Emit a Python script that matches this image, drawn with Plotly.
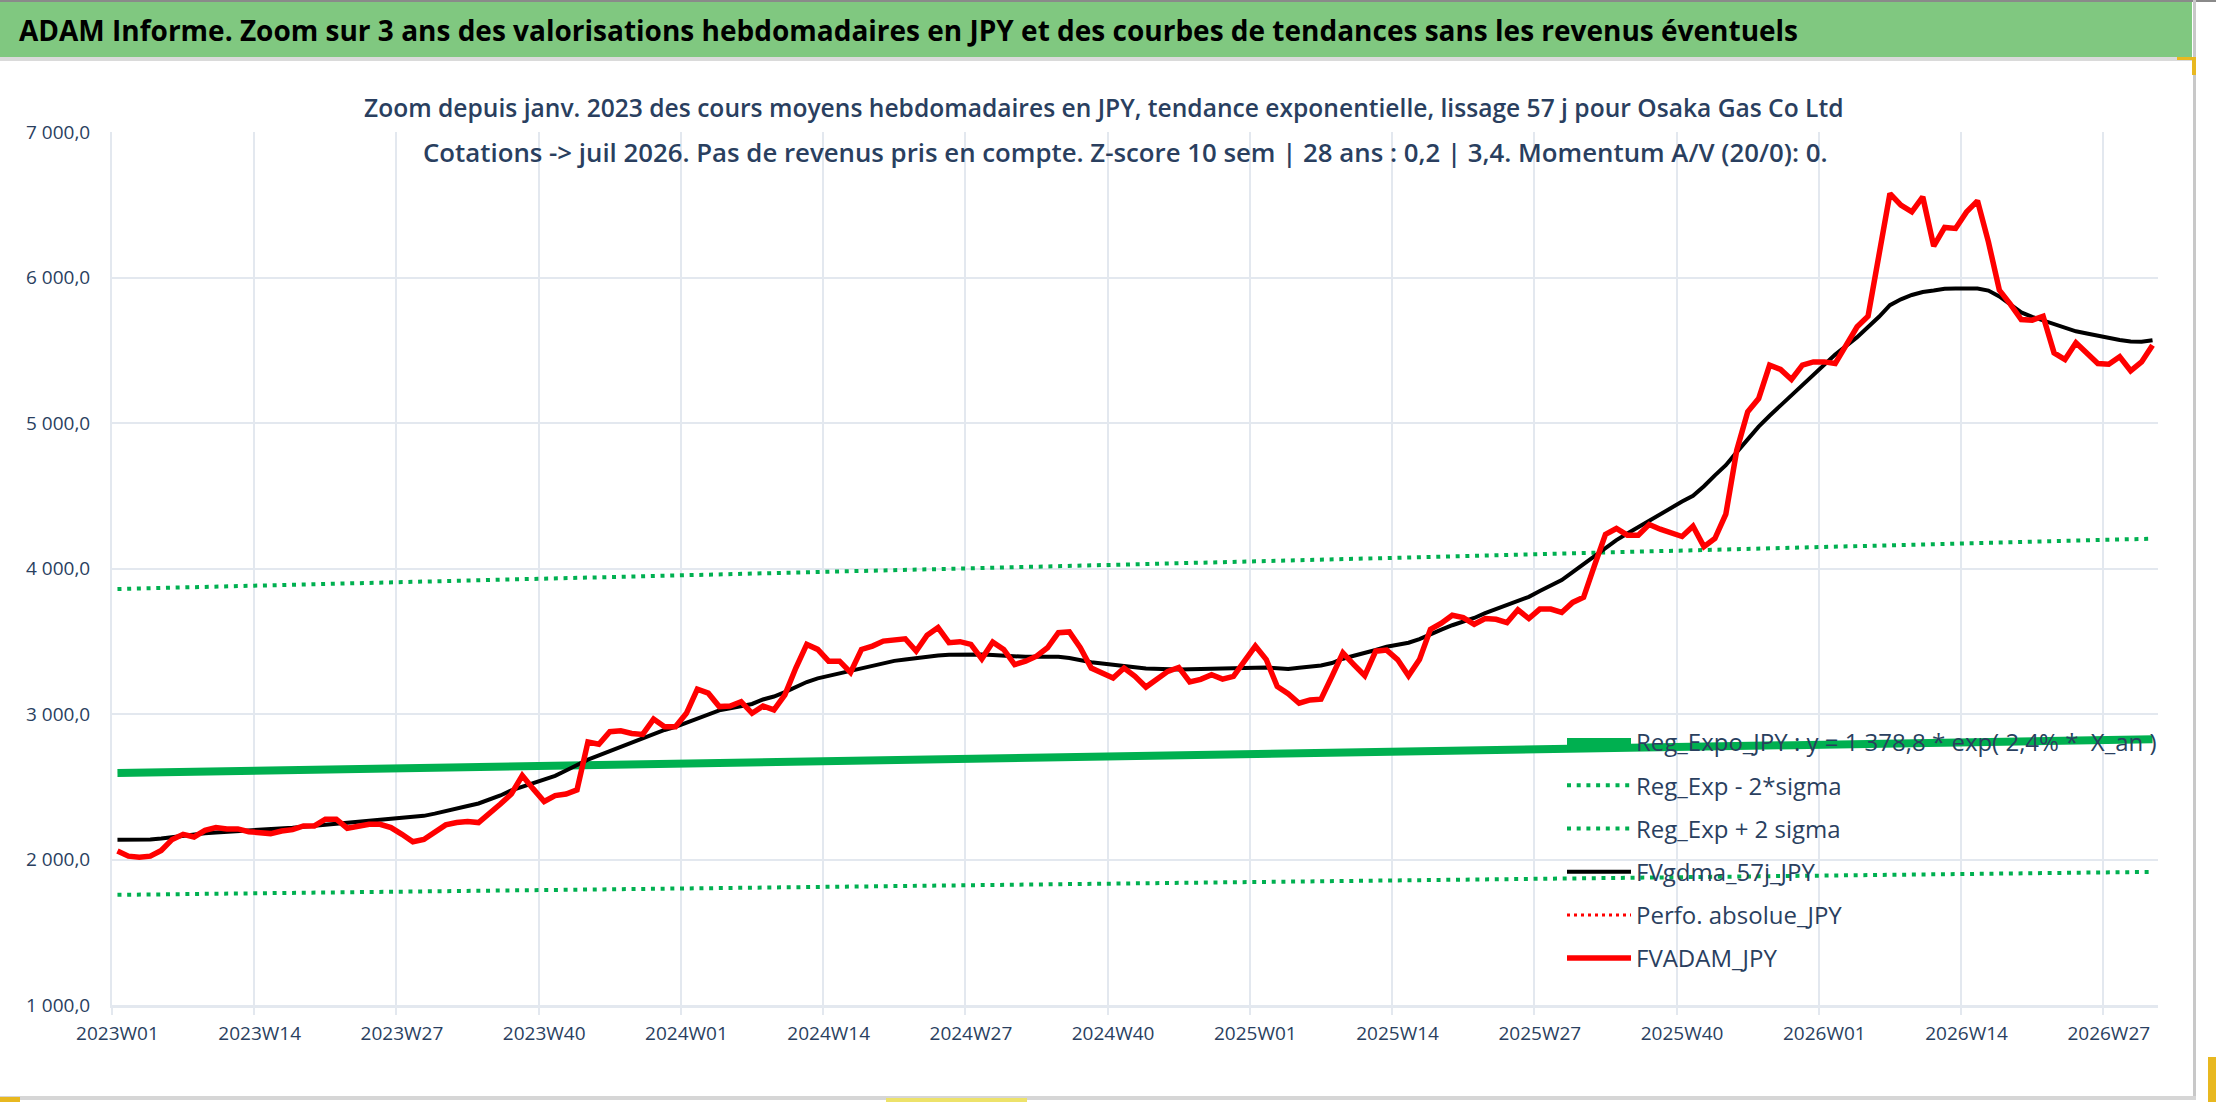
import plotly.graph_objects as go

# ---------------- data ----------------
weeks = [f"{y}W{w:02d}" for y in (2023, 2024, 2025) for w in range(1, 53)] + \
        [f"2026W{w:02d}" for w in range(1, 32)]

tick_labels = ["2023W01", "2023W14", "2023W27", "2023W40",
               "2024W01", "2024W14", "2024W27", "2024W40",
               "2025W01", "2025W14", "2025W27", "2025W40",
               "2026W01", "2026W14", "2026W27"]

fvadam_jpy = [
    2058, 2023, 2016, 2023, 2062, 2138, 2173, 2155, 2200, 2219,
    2210, 2210, 2191, 2185, 2178, 2196, 2205, 2231, 2231, 2277,
    2277, 2215, 2231, 2242, 2242, 2219, 2173, 2122, 2138, 2185,
    2238, 2254, 2261, 2254, 2312, 2381, 2450, 2577, 2485, 2399,
    2439, 2450, 2478, 2808, 2792, 2878, 2885, 2866, 2860, 2965,
    2912, 2912, 3005, 3171, 3143, 3051, 3055, 3085, 3005, 3055,
    3028, 3132, 3316, 3478, 3444, 3363, 3363, 3286, 3444, 3467,
    3501, 3513, 3517, 3432, 3541, 3594, 3490, 3497, 3478, 3379,
    3494, 3444, 3340, 3363, 3397, 3455, 3559, 3564, 3455, 3316,
    3282, 3247, 3316, 3259, 3185, 3236, 3293, 3320, 3220, 3238,
    3270, 3240, 3259, 3363, 3467, 3374, 3189, 3139, 3074, 3097,
    3102, 3259, 3420, 3340, 3263, 3432, 3439, 3374, 3263, 3374,
    3582, 3624, 3679, 3663, 3617, 3656, 3651, 3628, 3716, 3656,
    3721, 3721, 3698, 3767, 3802, 4021, 4234, 4275, 4229, 4229,
    4303, 4270, 4240, 4220, 4290, 4150, 4206, 4373, 4813, 5077,
    5168, 5398, 5368, 5299, 5398, 5420, 5420, 5409, 5535, 5661,
    5734, 6142, 6577, 6497, 6451, 6554, 6215, 6344, 6337, 6451,
    6527, 6245, 5913, 5817, 5711, 5707, 5734, 5482, 5436, 5551,
    5482, 5409, 5404, 5455, 5359, 5420, 5535,
]

fvgdma_57j_jpy = [
    2136, 2136, 2137, 2138, 2145, 2155, 2163, 2172, 2180, 2186,
    2190, 2193, 2196, 2200, 2204, 2212, 2218, 2225, 2232, 2238,
    2243, 2250, 2256, 2262, 2270, 2277, 2284, 2292, 2300, 2315,
    2335, 2352, 2368, 2385, 2410, 2440, 2475, 2500, 2520, 2543,
    2575, 2612, 2650, 2686, 2715, 2745, 2774, 2800, 2830, 2865,
    2890, 2912, 2940, 2970, 2995, 3025, 3040, 3055, 3069, 3100,
    3120, 3150, 3185, 3220, 3245, 3262, 3280, 3298, 3315, 3332,
    3350, 3365, 3375, 3385, 3395, 3402, 3408, 3409, 3409, 3409,
    3405, 3400, 3396, 3393, 3393, 3393, 3393, 3385, 3370, 3356,
    3347, 3340, 3333, 3322, 3312, 3308, 3306, 3305, 3308, 3310,
    3310, 3312, 3315, 3320, 3323, 3320, 3315, 3310, 3318, 3325,
    3333, 3350, 3380, 3400, 3418, 3440, 3462, 3478, 3490, 3515,
    3550, 3580, 3610, 3635, 3660, 3693, 3720, 3748, 3775, 3805,
    3845, 3880, 3920, 3975, 4030, 4085, 4140, 4195, 4240, 4285,
    4330, 4375, 4415, 4460, 4500, 4565, 4640, 4710, 4800, 4890,
    4975, 5050, 5120, 5190, 5260, 5330, 5400, 5470, 5530, 5590,
    5660, 5730, 5810, 5850, 5880, 5900, 5910, 5922, 5924, 5924,
    5924, 5910, 5870, 5815, 5760, 5730, 5705, 5680, 5650, 5630,
    5615, 5600, 5580, 5570, 5560, 5558, 5569,
]

trend_weeks = tick_labels + ["2026W31"]
reg_expo_jpy = [2595, 2611, 2626, 2642, 2658, 2674, 2690, 2706,
                2722, 2739, 2755, 2772, 2789, 2805, 2822, 2827]
reg_exp_minus_2sigma = [1757, 1768, 1778, 1789, 1800, 1811, 1822, 1833,
                        1844, 1855, 1866, 1877, 1888, 1900, 1911, 1915]
reg_exp_plus_2sigma = [3859, 3882, 3906, 3929, 3953, 3977, 4001, 4025,
                       4049, 4074, 4098, 4123, 4148, 4173, 4198, 4205]
perfo_absolue_jpy = [None]

title_text = ("ADAM Informe. Zoom sur 3 ans des valorisations hebdomadaires en JPY "
              "et des courbes de tendances sans les revenus éventuels")
sub_line1 = ("Zoom depuis janv. 2023 des cours moyens hebdomadaires en JPY, tendance "
             "exponentielle, lissage 57 j pour Osaka Gas Co Ltd")
sub_line2 = ("Cotations -> juil 2026. Pas de revenus pris en compte. Z-score 10 sem | "
             "28 ans : 0,2 | 3,4. Momentum A/V (20/0): 0.")

# ---------------- layout geometry ----------------
W, H = 2216, 1102
L, R, T, B = 112, 58, 132, 97
PW = W - L - R
PH = H - T - B


def px(xp):
    return (xp - L) / PW


def py(yp):
    return (H - B - yp) / PH


FONT = "Open Sans"
TXT = "#2a3f5f"
GREEN = "#00B050"
GRID = "#E3E8EF"

# vertical grid lines sit on the category boundaries (before each labelled week)
grid_positions = [weeks.index(t) - 0.5 for t in tick_labels]
x_range = [-0.5, len(weeks) - 0.5]

fig = go.Figure()
fig.add_trace(go.Scatter(x=trend_weeks, y=reg_expo_jpy, mode="lines",
                         name="Reg_Expo_JPY : y = 1 378,8 * exp( 2,4% *  X_an )",
                         legendgroup="a", line=dict(color=GREEN, width=8)))
fig.add_trace(go.Scatter(x=trend_weeks, y=reg_exp_minus_2sigma, mode="lines",
                         name="Reg_Exp - 2*sigma", legendgroup="b",
                         line=dict(color=GREEN, width=4, dash="4px,5.7px")))
fig.add_trace(go.Scatter(x=trend_weeks, y=reg_exp_plus_2sigma, mode="lines",
                         name="Reg_Exp + 2 sigma", legendgroup="c",
                         line=dict(color=GREEN, width=4, dash="4px,5.7px")))
fig.add_trace(go.Scatter(x=weeks, y=fvgdma_57j_jpy, mode="lines",
                         name="FVgdma_57j_JPY", legendgroup="d",
                         line=dict(color="#000000", width=4)))
fig.add_trace(go.Scatter(x=[None], y=perfo_absolue_jpy, mode="lines",
                         name="Perfo. absolue_JPY", legendgroup="e",
                         line=dict(color="#FF0000", width=3, dash="3px,4px")))
fig.add_trace(go.Scatter(x=weeks, y=fvadam_jpy, mode="lines",
                         name="FVADAM_JPY", legendgroup="f",
                         line=dict(color="#FF0000", width=5.5)))
# empty helper trace so that the grid axis (x2) is drawn
fig.add_trace(go.Scatter(x=[None], y=[None], xaxis="x2", yaxis="y",
                         showlegend=False, hoverinfo="skip"))


def rect(x0, x1, y0, y1, color, layer="above"):
    return dict(type="rect", xref="paper", yref="paper", x0=px(x0), x1=px(x1),
                y0=py(y1), y1=py(y0), fillcolor=color, line=dict(width=0), layer=layer)


shapes = [
    rect(0, 2192, 0, 57, "#80C880"),          # title band
    rect(0, 2216, 0, 2, "#8A8A8A"),           # top edge
    rect(0, 2192, 57, 61, "#DADADA"),         # band underline
    rect(2193, 2196, 0, 1099, "#C8C8C8"),     # right frame
    rect(0, 2196, 1096, 1100, "#D6D6D6"),     # bottom frame
    rect(0, 20, 1097, 1102, "#E8B820"),       # handles
    rect(886, 1027, 1098, 1102, "#EDE26A"),
    rect(2208, 2216, 1057, 1102, "#E8B820"),
    rect(2177, 2196, 57, 60, "#E8B820"),
    rect(2192, 2196, 57, 75, "#E8B820"),
    rect(351, 1844, 85, 180, "#FFFFFF", layer="between"),  # subtitle box
]

annotations = [
    dict(text=title_text, xref="paper", yref="paper", x=px(17), y=py(30),
         xanchor="left", yanchor="middle", showarrow=False,
         font=dict(family=FONT, size=28, color="#000000", weight="bold")),
    dict(text=sub_line1, xref="paper", yref="paper", x=px(1104), y=py(107),
         xanchor="center", yanchor="middle", showarrow=False,
         font=dict(family=FONT, size=24.6, color=TXT, weight=600)),
    dict(text=sub_line2, xref="paper", yref="paper", x=px(1125), y=py(152),
         xanchor="center", yanchor="middle", showarrow=False,
         font=dict(family=FONT, size=25.8, color=TXT, weight=600)),
]

fig.update_layout(
    template="plotly_white",
    width=W, height=H,
    margin=dict(l=L, r=R, t=T, b=B, pad=0),
    paper_bgcolor="#FFFFFF", plot_bgcolor="#FFFFFF",
    font=dict(family=FONT, size=20, color=TXT),
    separators=", ",
    showlegend=True,
    legend=dict(x=px(1562), y=py(720), xanchor="left", yanchor="top",
                bgcolor="rgba(0,0,0,0)", borderwidth=0,
                font=dict(family=FONT, size=24, color=TXT),
                itemwidth=64, traceorder="grouped", tracegroupgap=9),
    shapes=shapes,
    annotations=annotations,
    xaxis=dict(type="category", categoryorder="array", categoryarray=weeks,
               range=x_range, tickmode="array", tickvals=tick_labels,
               ticktext=tick_labels, showgrid=False,
               ticks="outside", ticklen=9, tickcolor="rgba(0,0,0,0)",
               showline=True, linecolor=GRID, linewidth=3,
               tickfont=dict(family=FONT, size=19, color=TXT),
               zeroline=False, tickangle=0),
    xaxis2=dict(type="linear", overlaying="x", anchor="y", side="bottom",
                range=x_range, tickmode="array", tickvals=grid_positions,
                showticklabels=False, showgrid=True, gridcolor=GRID, gridwidth=2,
                ticks="outside", ticklen=9, tickcolor=GRID, tickwidth=2,
                zeroline=False, showline=False),
    yaxis=dict(range=[1000, 7000], dtick=1000, tick0=1000, tickformat=",.1f",
               showgrid=True, gridcolor=GRID, gridwidth=2,
               showline=True, linecolor=GRID, linewidth=2,
               zeroline=False, ticklabelstandoff=16,
               tickfont=dict(family=FONT, size=19, color=TXT)),
)

fig.write_html("out.html", post_script="document.body.style.margin='0px';",
               config={"displayModeBar": False})
